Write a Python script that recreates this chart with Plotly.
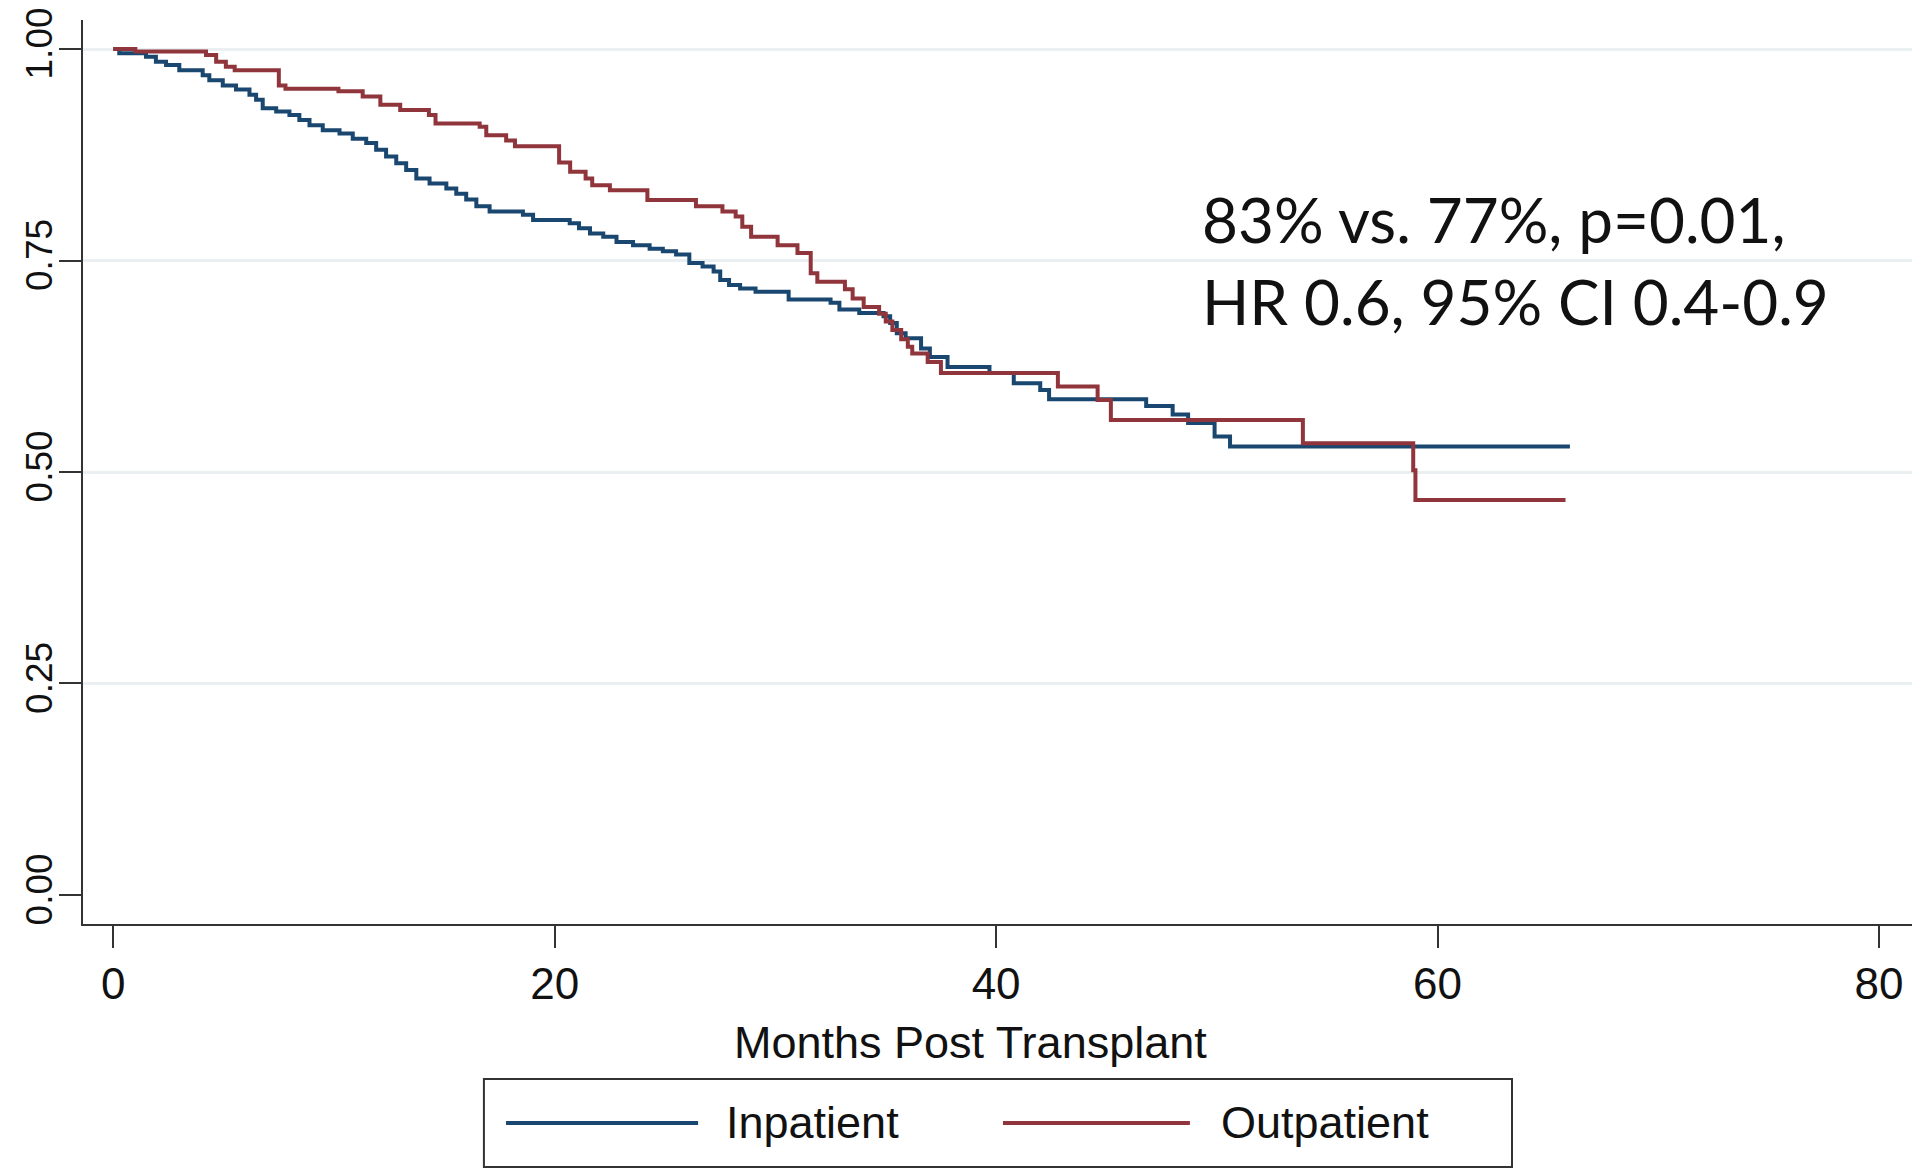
import plotly.graph_objects as go

# Kaplan-Meier step data (months, survival)
inpatient_t = [0, 0.27, 1.48, 1.93, 2.39, 2.99, 4.05, 4.35, 4.96, 5.56, 6.17, 6.47, 6.77, 7.38, 7.98,
               8.43, 8.89, 9.49, 10.25, 10.85, 11.46, 11.91, 12.36, 12.82, 13.27, 13.73, 14.33, 15.09,
               15.54, 15.99, 16.45, 17.05, 18.56, 19.02, 20.68, 21.1, 21.6, 22.2, 22.8, 23.55, 24.3,
               24.9, 25.5, 26.1, 26.7, 27.2, 27.5, 27.9, 28.4, 29.1, 30.6, 32.5, 32.9, 33.8, 34.9,
               35.2, 35.5, 35.9, 36.6, 37.0, 37.8, 39.7, 40.8, 42.0, 42.4, 46.8, 48.0, 48.7, 49.9,
               50.6, 66.0]
inpatient_s = [1.0, 0.995, 0.991, 0.985, 0.981, 0.975, 0.969, 0.963, 0.957, 0.952, 0.946, 0.940, 0.930,
               0.926, 0.922, 0.916, 0.910, 0.904, 0.900, 0.894, 0.889, 0.881, 0.873, 0.865, 0.857, 0.847,
               0.841, 0.835, 0.829, 0.822, 0.814, 0.808, 0.804, 0.798, 0.794, 0.788, 0.782, 0.778, 0.772,
               0.768, 0.764, 0.761, 0.757, 0.747, 0.743, 0.737, 0.727, 0.721, 0.717, 0.713, 0.704, 0.700,
               0.692, 0.688, 0.684, 0.676, 0.664, 0.658, 0.646, 0.636, 0.624, 0.617, 0.605, 0.597, 0.586,
               0.578, 0.568, 0.558, 0.542, 0.530, 0.530]

outpatient_t = [0, 1.0, 4.2, 4.66, 5.1, 5.5, 7.5, 7.8, 10.2, 11.3, 12.1, 13.0, 14.3, 14.6, 16.6, 16.9,
                17.8, 18.2, 20.2, 20.7, 21.4, 21.7, 22.5, 24.2, 26.4, 27.6, 28.2, 28.5, 28.9, 30.1,
                31.0, 31.6, 31.9, 33.15, 33.5, 34.0, 34.7, 35.0, 35.3, 35.7, 36.0, 36.2, 36.9, 37.5,
                42.8, 44.6, 45.2, 53.9, 58.9, 59.0, 65.8]
outpatient_s = [1.0, 0.997, 0.993, 0.985, 0.979, 0.975, 0.957, 0.953, 0.950, 0.944, 0.934, 0.928, 0.922,
                0.912, 0.908, 0.898, 0.892, 0.885, 0.866, 0.855, 0.847, 0.839, 0.833, 0.8215, 0.814,
                0.808, 0.802, 0.790, 0.778, 0.768, 0.759, 0.735, 0.725, 0.716, 0.705, 0.695, 0.687,
                0.678, 0.668, 0.657, 0.648, 0.640, 0.630, 0.617, 0.601, 0.585, 0.5615, 0.534, 0.502,
                0.467, 0.467]

series_names = ["Inpatient", "Outpatient"]
series_colors = ["#1a476f", "#90353b"]

x_ticks = [0, 20, 40, 60, 80]
y_ticks = [0, 0.25, 0.5, 0.75, 1.0]
y_tick_text = ["0.00", "0.25", "0.50", "0.75", "1.00"]
grid_vals = [0.25, 0.5, 0.75, 1.0]

x_title = "Months Post Transplant"
stat_lines = ["83% vs. 77%, p=0.01,", "HR 0.6, 95% CI 0.4-0.9"]

FONT = "Liberation Sans, Arial, sans-serif"

fig = go.Figure()
for t, s, name, col in [(inpatient_t, inpatient_s, series_names[0], series_colors[0]),
                        (outpatient_t, outpatient_s, series_names[1], series_colors[1])]:
    fig.add_trace(go.Scatter(x=t, y=s, mode="lines", name=name,
                             line=dict(color=col, width=4, shape="hv"),
                             showlegend=False))

# page body has an 8px default margin, so the figure is 1912x1164
fig.update_layout(
    width=1912, height=1164,
    margin=dict(l=75, r=8, t=12, b=248, autoexpand=False),
    paper_bgcolor="white", plot_bgcolor="white",
    font=dict(family=FONT, size=44, color="#111111"),
)

fig.update_xaxes(
    range=[-1.373, 81.50], tickmode="array", tickvals=x_ticks,
    showgrid=False, zeroline=False, automargin=False,
    showline=True, linecolor="#333333", linewidth=2,
    ticks="outside", ticklen=22, tickwidth=2, tickcolor="#333333",
    tickfont=dict(size=44, family=FONT, color="#111111"),
    ticklabelstandoff=-2, ticklabeloverflow="allow",
)
fig.update_yaxes(
    range=[-0.0343, 1.0343], tickmode="array", tickvals=y_ticks, ticktext=y_tick_text,
    tickangle=-90, showgrid=False, zeroline=False, automargin=False,
    showline=True, linecolor="#333333", linewidth=2,
    ticks="outside", ticklen=22, tickwidth=2, tickcolor="#333333",
    tickfont=dict(size=37, family=FONT, color="#111111"),
    ticklabelstandoff=-8, ticklabeloverflow="allow",
    minor=dict(tickmode="array", tickvals=grid_vals, showgrid=True,
               gridcolor="#eaf0f1", gridwidth=3, ticks=""),
)

# axis title
fig.add_annotation(text=x_title, xref="paper", yref="paper", x=0.485, y=-0.1316,
                   xanchor="center", yanchor="middle", showarrow=False,
                   font=dict(family=FONT, size=45, color="#111111"))

# statistics text (two lines)
for line, yv in zip(stat_lines, [0.7985, 0.7027]):
    fig.add_annotation(text=line, xref="x", yref="y", x=49.24, y=yv,
                       xanchor="left", yanchor="middle", align="left", showarrow=False,
                       font=dict(family="Lato, Open Sans, sans-serif", size=62, color="#111111"))

# custom legend box
fig.add_shape(type="rect", xref="paper", yref="paper", x0=0.2192, x1=0.7813, y0=-0.2688, y1=-0.1715,
              line=dict(color="#333333", width=2), fillcolor="white")
leg_x = [(0.2313, 0.3363, 0.3505), (0.5030, 0.6052, 0.6211)]
for (x0, x1, tx), name, col in zip(leg_x, series_names, series_colors):
    fig.add_shape(type="line", xref="paper", yref="paper", x0=x0, x1=x1, y0=-0.2201, y1=-0.2201,
                  line=dict(color=col, width=4))
    fig.add_annotation(text=name, xref="paper", yref="paper", x=tx, y=-0.2201,
                       xanchor="left", yanchor="middle", showarrow=False,
                       font=dict(family=FONT, size=45, color="#111111"))

fig.write_html("out.html")
